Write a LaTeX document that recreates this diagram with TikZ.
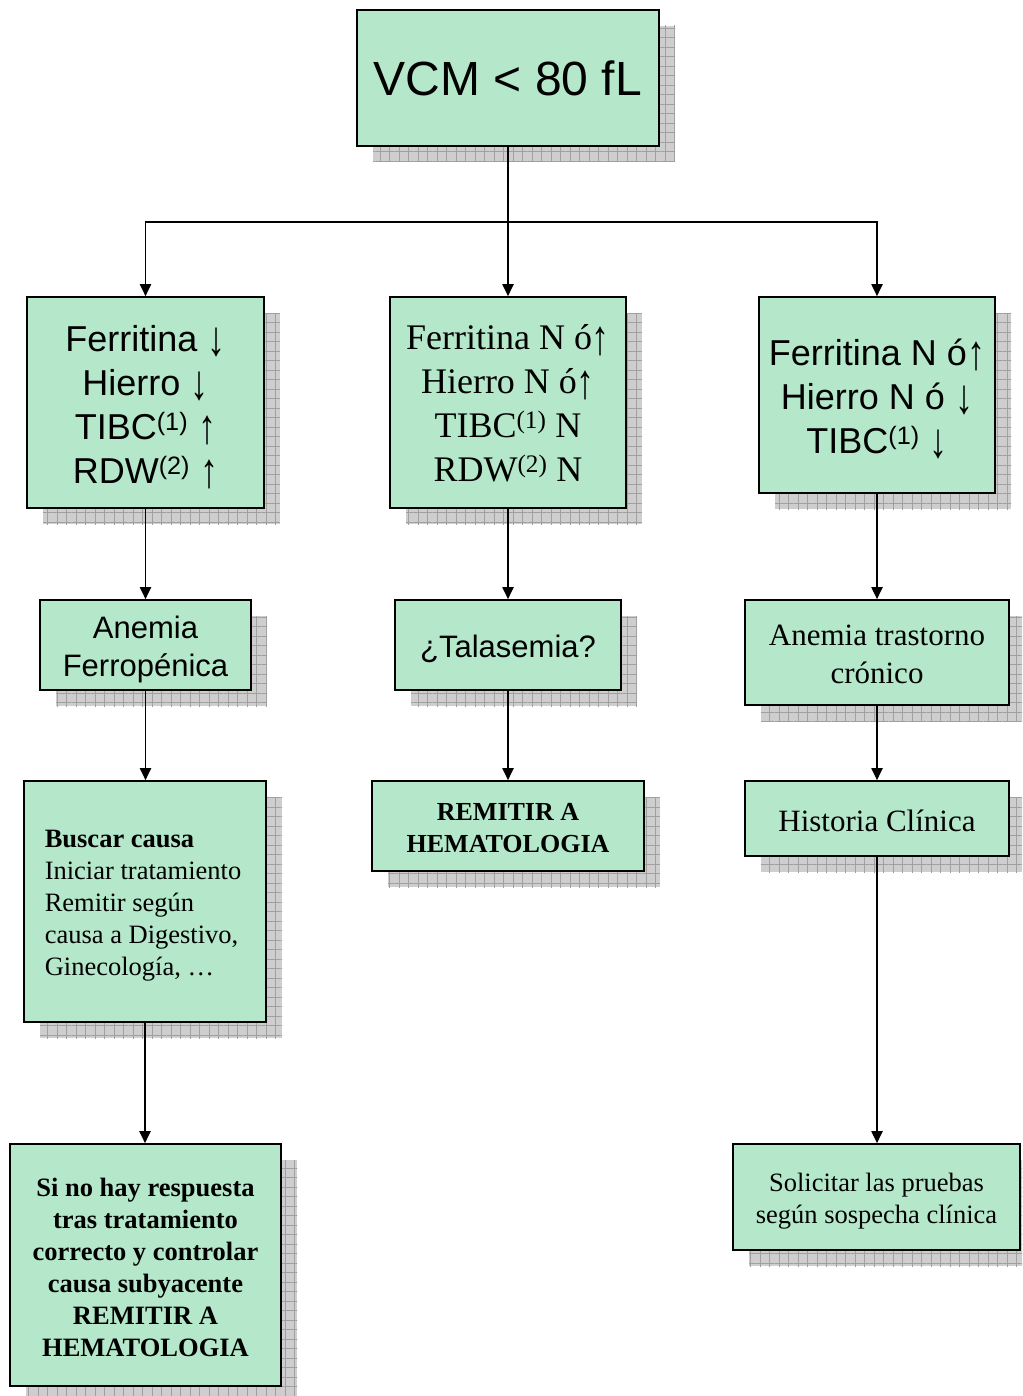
\documentclass[tikz,border=0pt]{standalone}
\usepackage{fontspec}
\setmainfont{Liberation Serif}
\newfontfamily\arialf{Liberation Sans}
\usetikzlibrary{arrows.meta,shadows,patterns.meta}
\definecolor{boxgreen}{RGB}{181,232,203}
\definecolor{shadowgray}{RGB}{206,206,206}
\definecolor{gridgray}{RGB}{160,160,160}
\newcommand{\dnar}{\smash{\raisebox{-0.13em}{\scalebox{1}[1.36]{↓}}}}
\newcommand{\upar}{\smash{\raisebox{-0.13em}{\scalebox{1}[1.36]{↑}}}}
\begin{document}
\begin{tikzpicture}[x=1pt,y=-1pt,
  box/.style={draw=black, line width=1.6pt, fill=boxgreen, inner sep=0pt, align=center,
    general shadow={shadow xshift=16pt, shadow yshift=-16pt, fill=shadowgray},
    general shadow={shadow xshift=16pt, shadow yshift=-16pt,
      pattern={Hatch[distance=9.5pt,angle=0,line width=0.7pt]}, pattern color=gridgray}},
  txt/.style={inner sep=0pt, align=center},
  sansbig/.style={font=\arialf\fontsize{36}{44}\selectfont},
  serifbig/.style={font=\fontsize{36}{44}\selectfont},
  sansmid/.style={font=\arialf\fontsize{31}{38}\selectfont},
  serifmid/.style={font=\fontsize{31}{38}\selectfont},
  seriftxt/.style={font=\fontsize{26.5}{32}\selectfont},
  boldtxt/.style={font=\bfseries\fontsize{26.5}{32}\selectfont},
  arr/.style={line width=1.9pt, -{Triangle[length=12pt,width=11pt]}},
  conn/.style={line width=1.9pt}]
\useasboundingbox (0,0) rectangle (1022,1396);
\clip (0,0) rectangle (1022,1396);

\node[box, minimum width=302, minimum height=136, font=\arialf\fontsize{48}{58}\selectfont] (top) at (508,78) {VCM < 80 fL};

\node[box, minimum width=237, minimum height=211,
  label={[txt, sansbig, yshift=-1.5pt]center:{Ferritina \dnar\\ Hierro \dnar\\ TIBC\textsuperscript{(1)} \upar\\ RDW\textsuperscript{(2)} \upar}}] (l1) at (145.5,402.5) {};
\node[box, minimum width=236, minimum height=211,
  label={[txt, serifbig, yshift=-1pt]center:{Ferritina N ó\upar\\ Hierro N ó\upar\\ TIBC\textsuperscript{(1)} N\\ RDW\textsuperscript{(2)} N}}] (m1) at (508,402.5) {};
\node[box, minimum width=236, minimum height=196,
  label={[txt, sansbig, yshift=-1pt]center:{Ferritina N ó\upar\\ Hierro N ó \dnar\\ TIBC\textsuperscript{(1)} \dnar}}] (r1) at (877,395) {};

\node[box, minimum width=211, minimum height=90,
  label={[txt, sansmid, yshift=-4pt]center:{Anemia\\ Ferropénica}}] (l2) at (145.5,645) {};
\node[box, minimum width=226, minimum height=90,
  label={[txt, sansmid, yshift=-4pt]center:{¿Talasemia?}}] (m2) at (508,645) {};
\node[box, minimum width=264, minimum height=105,
  label={[txt, serifmid, yshift=-2pt]center:{Anemia trastorno\\ crónico}}] (r2) at (877,652.5) {};

\node[box, minimum width=242, minimum height=241,
  label={[txt, seriftxt, align=left, yshift=-4pt, xshift=-2pt]center:{\textbf{Buscar causa}\\ Iniciar tratamiento\\ Remitir según\\ causa a Digestivo,\\ Ginecología, \dots}}] (l3) at (145,901.5) {};
\node[box, minimum width=272, minimum height=90,
  label={[txt, font=\bfseries\fontsize{26}{32}\selectfont, yshift=-2pt]center:{REMITIR A\\ HEMATOLOGIA}}] (m3) at (508,826) {};
\node[box, minimum width=264, minimum height=75,
  label={[txt, serifmid, yshift=-2pt]center:{Historia Clínica}}] (r3) at (877,818.5) {};

\node[box, minimum width=271, minimum height=242,
  label={[txt, boldtxt, yshift=-2pt]center:{Si no hay respuesta\\ tras tratamiento\\ correcto y controlar\\ causa subyacente\\ REMITIR A\\ HEMATOLOGIA}}] (l4) at (145.5,1265) {};
\node[box, minimum width=287, minimum height=106,
  label={[txt, seriftxt, yshift=-4pt]center:{Solicitar las pruebas\\ según sospecha clínica}}] (r4) at (876.5,1197) {};

\coordinate (j) at (508,222);
\draw[conn] (top.south) -- (j);
\draw[arr] (j) -| (l1.north);
\draw[arr] (j) -| (r1.north);
\draw[arr] (j) -- (m1.north);

\draw[arr] (l1.south) -- (l2.north);
\draw[arr] (l2.south) -- (l3.north -| l2.south);
\draw[arr] (l3.south) -- (l4.north -| l3.south);
\draw[arr] (m1.south) -- (m2.north);
\draw[arr] (m2.south) -- (m3.north);
\draw[arr] (r1.south) -- (r2.north);
\draw[arr] (r2.south) -- (r3.north);
\draw[arr] (r3.south) -- (r4.north -| r3.south);
\end{tikzpicture}
\end{document}
